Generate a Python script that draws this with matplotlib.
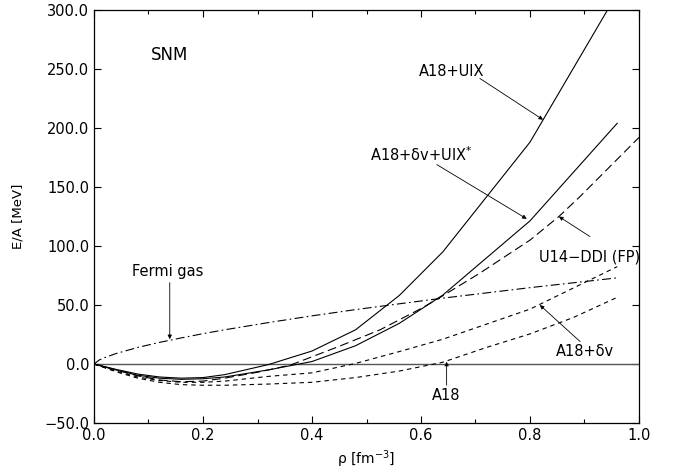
import matplotlib
matplotlib.use("Agg")
import matplotlib.pyplot as plt
from matplotlib.ticker import MultipleLocator, FuncFormatter

plt.rcParams['font.family'] = ['DejaVu Sans']

# densities (fm^-3)
rho_apr = [0.0, 0.04, 0.08, 0.12, 0.16, 0.20, 0.24, 0.32, 0.40, 0.48, 0.56, 0.64, 0.80, 0.96]
e_a18_uix = [0.0, -4.5, -8.5, -11.0, -12.0, -11.5, -9.0, -0.5, 11.0, 29.0, 58.0, 95.0, 188.0, 314.0]
e_a18_dv_uixs = [0.0, -5.0, -9.5, -12.0, -13.0, -12.5, -11.0, -5.0, 2.1, 15.5, 34.4, 58.4, 121.3, 204.0]

rho_a18dv = [0.0, 0.04, 0.08, 0.12, 0.16, 0.20, 0.24, 0.32, 0.40, 0.48, 0.56, 0.64, 0.80, 0.96]
e_a18dv = [0.0, -6.0, -11.0, -14.0, -15.5, -15.5, -14.5, -10.5, -7.5, 0.5, 10.5, 21.0, 46.5, 82.5]

rho_a18 = [0.0, 0.04, 0.08, 0.12, 0.16, 0.20, 0.24, 0.32, 0.40, 0.48, 0.56, 0.64, 0.72, 0.80, 0.88, 0.96]
e_a18 = [0.0, -6.5, -12.0, -15.5, -17.5, -18.0, -18.0, -17.0, -15.5, -11.5, -6.0, 1.5, 14.0, 25.5, 39.5, 56.5]

rho_u14 = [0.0, 0.04, 0.08, 0.12, 0.16, 0.20, 0.24, 0.30, 0.36, 0.45, 0.525, 0.60, 0.63, 0.708, 0.80, 0.853, 0.892, 1.0]
e_u14 = [0.0, -5.0, -10.0, -13.5, -15.0, -14.5, -12.0, -7.0, -1.0, 15.0, 29.0, 47.0, 55.0, 77.0, 105.0, 125.0, 142.0, 192.0]

rho_fg = [0.0, 0.01, 0.02, 0.04, 0.08, 0.12, 0.16, 0.20, 0.24, 0.32, 0.40, 0.48, 0.56, 0.64, 0.80, 0.96]
e_fg = [0.0, 3.5, 5.5, 8.8, 14.0, 18.3, 22.1, 25.7, 29.0, 35.1, 40.8, 46.1, 51.0, 55.8, 64.7, 73.0]

fig = plt.figure(figsize=(6.76, 4.72), dpi=100)
ax = fig.add_axes([94/676, 1-423/472, (639-94)/676, (423-10)/472])

lw = 0.8
ax.axhline(0.0, color='#555555', lw=1.0)
ax.plot(rho_apr, e_a18_uix, color='k', lw=lw, ls='-')
ax.plot(rho_apr, e_a18_dv_uixs, color='k', lw=lw, ls='-')
ax.plot(rho_u14, e_u14, color='k', lw=lw, ls=(0, (8, 4)))
ax.plot(rho_a18dv, e_a18dv, color='k', lw=lw, ls=(0, (4, 3.5)))
ax.plot(rho_a18, e_a18, color='k', lw=lw, ls=(0, (4, 3.5)))
ax.plot(rho_fg, e_fg, color='k', lw=lw, ls=(0, (8, 3, 1.5, 3)))

ax.set_xlim(0.0, 1.0)
ax.set_ylim(-50.0, 300.0)
ax.xaxis.set_major_locator(MultipleLocator(0.2))
ax.xaxis.set_minor_locator(MultipleLocator(0.1))
ax.yaxis.set_major_locator(MultipleLocator(50))
fmt = FuncFormatter(lambda v, p: ('%.1f' % v).replace('-', '\u2212'))
ax.xaxis.set_major_formatter(fmt)
ax.yaxis.set_major_formatter(fmt)
ax.tick_params(which='both', direction='in', top=True, right=True, labelsize=10.5, width=0.8)
ax.tick_params(which='major', length=5)
ax.tick_params(which='minor', length=3)
for s in ax.spines.values():
    s.set_linewidth(0.9)

ax.set_xlabel('\u03c1 [fm$^{-3}$]', fontsize=10, labelpad=4)
ax.set_ylabel('E/A [MeV]', fontsize=9.5, labelpad=14)

ax.text(0.139, 262, 'SNM', fontsize=12, ha='center', va='center')

ap = dict(arrowstyle='-|>', lw=0.6, color='k', mutation_scale=6, shrinkA=0, shrinkB=0)
fs = 10.5
ax.text(0.657, 248, 'A18+UIX', fontsize=fs, ha='center', va='center')
ax.annotate('', xy=(0.824, 207), xytext=(0.708, 242), arrowprops=ap)
ax.text(0.60, 177, 'A18+\u03b4v+UIX$^{*}$', fontsize=fs, ha='center', va='center')
ax.annotate('', xy=(0.794, 123), xytext=(0.629, 169), arrowprops=ap)
ax.text(0.909, 91, 'U14\u2212DDI (FP)', fontsize=fs, ha='center', va='center')
ax.annotate('', xy=(0.853, 125), xytext=(0.91, 108), arrowprops=ap)
ax.text(0.136, 78, 'Fermi gas', fontsize=fs, ha='center', va='center')
ax.annotate('', xy=(0.139, 21), xytext=(0.139, 69), arrowprops=ap)
ax.text(0.90, 11, 'A18+\u03b4v', fontsize=fs, ha='center', va='center')
ax.annotate('', xy=(0.818, 50), xytext=(0.892, 19), arrowprops=ap)
ax.text(0.647, -27, 'A18', fontsize=fs, ha='center', va='center')
ax.annotate('', xy=(0.647, 2), xytext=(0.647, -18), arrowprops=ap)

fig.savefig('out.png', dpi=100)
